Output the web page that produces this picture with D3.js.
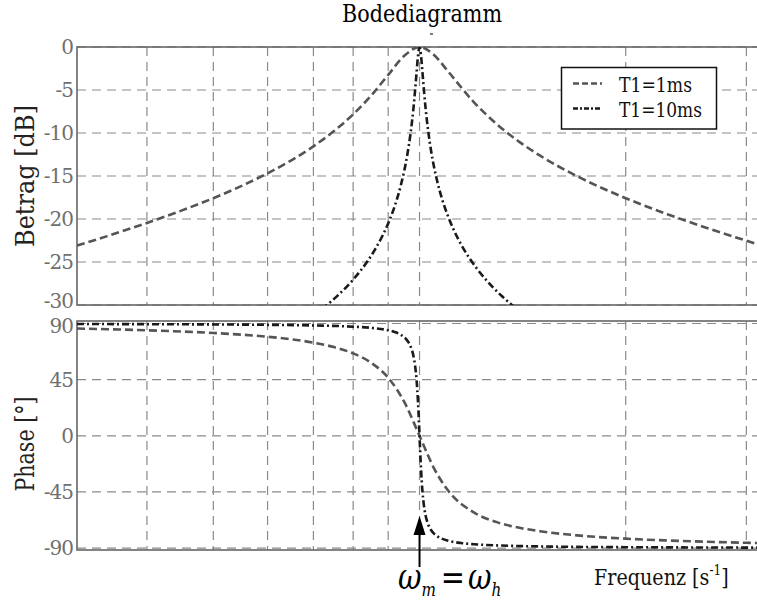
<!DOCTYPE html>
<html>
<head>
<meta charset="utf-8">
<script src="https://cdn.jsdelivr.net/npm/d3@7"></script>
<style>
  body { margin: 0; background: #fff; }
  svg { display: block; }
</style>
</head>
<body>
<div id="chart"></div>
<script>
// frequencies [1/s] and values
const freq1 = [316.2, 350, 400, 450, 500, 550, 600, 650, 700, 750, 800, 850, 900, 950, 1000,
  1050, 1100, 1200, 1300, 1400, 1500, 1700, 2000, 2300, 2600, 3000, 3162];
const mag1 = [-23.09, -21.99, -20.46, -19.0, -17.58, -16.15, -14.69, -13.17, -11.55, -9.78, -7.83, -5.64, -3.25, -1.02, 0,
  -0.93, -2.81, -6.4, -9.05, -11.06, -12.64, -15.04, -17.58, -19.44, -20.92, -22.52, -23.09];
const phase1 = [85.98, 85.44, 84.56, 83.56, 82.41, 81.04, 79.38, 77.31, 74.65, 71.08, 66.04, 58.51, 46.54, 27.16, 0,
  -26.02, -43.66, -61.39, -69.36, -73.74, -76.5, -79.8, -82.41, -83.88, -84.84, -85.71, -85.98];

const freq10m = [720, 740, 760, 780, 800, 820, 840, 860, 880, 900, 920, 940, 960, 970, 980, 990, 995, 1000,
  1005, 1010, 1020, 1030, 1040, 1060, 1080, 1100, 1120, 1150, 1180, 1210, 1250, 1280, 1320, 1360, 1400];
const mag10 = [-30.49, -29.71, -28.88, -28.0, -27.05, -26.02, -24.89, -23.62, -22.18, -20.51, -18.5, -15.95, -12.48, -10.12, -7.06, -3.03, -0.97, 0,
  -0.97, -2.99, -6.92, -9.89, -12.15, -15.44, -17.81, -19.64, -21.14, -22.96, -24.43, -25.67, -27.05, -27.94, -28.99, -29.9, -30.71];

const freq10p = [316.2, 400, 500, 600, 700, 800, 850, 900, 920, 940, 960, 970, 980, 985, 990, 995, 1000,
  1005, 1010, 1015, 1020, 1030, 1040, 1060, 1080, 1100, 1150, 1200, 1300, 1500, 2000, 2500, 3162];
const phase10 = [89.6, 89.45, 89.24, 88.93, 88.43, 87.45, 86.49, 84.59, 83.17, 80.82, 76.24, 71.82, 63.66, 56.51, 45.14, 26.62, 0,
  -26.51, -44.86, -56.11, -63.21, -71.31, -75.7, -80.27, -82.6, -84.02, -85.92, -86.88, -87.84, -88.63, -89.24, -89.45, -89.6];

const gridFreq = [400, 500, 600, 700, 800, 900, 1000, 2000, 3000];
const magTicks = [0, -5, -10, -15, -20, -25, -30];
const phaseTicks = [90, 45, 0, -45, -90];
const seriesNames = ["T1=1ms", "T1=10ms"];

const W = 757, H = 605;
const left = 77, right = 762;
const serif = "DejaVu Serif";

const svg = d3.select("#chart").append("svg")
  .attr("width", W).attr("height", H);

const x = d3.scaleLog().domain([316.2, 3162]).range([left, right]);
const yMag = d3.scaleLinear().domain([-30, 0]).range([305, 47]);
const yPh = d3.scaleLinear().domain([-91.5, 92]).range([550, 321]);

const gridColor = "#8a8a8a";
const frameColor = "#666";
const c1 = "#555", c10 = "#1a1a1a";
const dash1 = "8,4", dash10 = "7,3,2,3";

function panel(y, ticks, id, labelShift) {
  const [y0, y1] = y.range();
  const g = svg.append("g");
  // clip
  svg.append("clipPath").attr("id", id)
    .append("rect").attr("x", left).attr("y", y1).attr("width", right - left).attr("height", y0 - y1);
  // grid
  g.selectAll(".vg").data(gridFreq).join("line")
    .attr("x1", d => x(d)).attr("x2", d => x(d))
    .attr("y1", y1).attr("y2", y0)
    .attr("stroke", gridColor).attr("stroke-width", 1.2).attr("stroke-dasharray", "9,6");
  g.selectAll(".hg").data(ticks).join("line")
    .attr("x1", left).attr("x2", right)
    .attr("y1", d => y(d)).attr("y2", d => y(d))
    .attr("stroke", gridColor).attr("stroke-width", 1.2).attr("stroke-dasharray", "9,6");
  // frame
  g.append("rect")
    .attr("x", left).attr("y", y1).attr("width", right - left).attr("height", y0 - y1)
    .attr("fill", "none").attr("stroke", frameColor).attr("stroke-width", 1.6);
  // tick labels
  g.selectAll(".tl").data(ticks).join("text")
    .attr("x", 73).attr("y", d => y(d) + labelShift(d))
    .attr("text-anchor", "end")
    .attr("font-family", serif)
    .attr("font-size", 20)
    .attr("letter-spacing", -1)
    .attr("fill", "#6f6f6f")
    .text(d => d);
  return g;
}

const gMag = panel(yMag, magTicks, "clipMag", d => d === -30 ? 3 : 7);
const gPh = panel(yPh, phaseTicks, "clipPh", d => d === 90 ? 10 : 7);

function curve(g, fx, vals, y, color, dash, clip) {
  const line = d3.line()
    .x((d, i) => x(fx[i]))
    .y(d => y(d))
    .curve(d3.curveMonotoneX);
  g.append("path")
    .datum(vals)
    .attr("clip-path", `url(#${clip})`)
    .attr("d", line)
    .attr("fill", "none")
    .attr("stroke", color)
    .attr("stroke-width", 2.6)
    .attr("stroke-dasharray", dash);
}

curve(gMag, freq1, mag1, yMag, c1, dash1, "clipMag");
curve(gMag, freq10m, mag10, yMag, c10, dash10, "clipMag");
curve(gPh, freq1, phase1, yPh, c1, dash1, "clipPh");
curve(gPh, freq10p, phase10, yPh, c10, dash10, "clipPh");

// title
svg.append("text")
  .attr("x", 422).attr("y", 22)
  .attr("text-anchor", "middle")
  .attr("font-family", serif).attr("font-size", 24)
  .attr("textLength", 160).attr("lengthAdjust", "spacingAndGlyphs")
  .text("Bodediagramm");
svg.append("line")
  .attr("x1", 430).attr("x2", 433).attr("y1", 34).attr("y2", 34)
  .attr("stroke", "#222").attr("stroke-width", 1.2);

// y labels
svg.append("text")
  .attr("transform", `translate(34,${(yMag.range()[0] + yMag.range()[1]) / 2}) rotate(-90)`)
  .attr("text-anchor", "middle")
  .attr("font-family", serif).attr("font-size", 26)
  .attr("textLength", 142).attr("lengthAdjust", "spacingAndGlyphs")
  .attr("fill", "#222")
  .text("Betrag [dB]");
svg.append("text")
  .attr("transform", "translate(34,444) rotate(-90)")
  .attr("text-anchor", "middle")
  .attr("font-family", serif).attr("font-size", 26)
  .attr("textLength", 95).attr("lengthAdjust", "spacingAndGlyphs")
  .attr("fill", "#222")
  .text("Phase [°]");

// legend
const lg = svg.append("g");
lg.append("rect")
  .attr("x", 561.5).attr("y", 67.5).attr("width", 155).attr("height", 61.5)
  .attr("fill", "#fff").attr("stroke", "#111").attr("stroke-width", 1.5);
const legendStyle = [
  { color: c1, dash: "6,3" },
  { color: c10, dash: "5,2,2,2" }
];
seriesNames.forEach((name, i) => {
  const yy = 83.5 + i * 25;
  lg.append("line")
    .attr("x1", 573).attr("x2", 602).attr("y1", yy).attr("y2", yy)
    .attr("stroke", legendStyle[i].color).attr("stroke-width", 2.4)
    .attr("stroke-dasharray", legendStyle[i].dash);
  lg.append("text")
    .attr("x", 619).attr("y", yy + 8)
    .attr("font-family", serif).attr("font-size", 20)
    .attr("textLength", i === 0 ? 73 : 83).attr("lengthAdjust", "spacingAndGlyphs")
    .attr("fill", "#111")
    .text(name);
});

// x label
const xl = svg.append("text")
  .attr("transform", "translate(594,585) scale(0.87,1)")
  .attr("font-family", serif).attr("font-size", 22)
  .attr("fill", "#111");
xl.append("tspan").text("Frequenz [s");
xl.append("tspan").attr("dy", -10).attr("font-size", 14).text("-1");
xl.append("tspan").attr("dy", 10).text("]");

// arrow at resonance
const ax = x(1000);
svg.append("line")
  .attr("x1", ax).attr("x2", ax).attr("y1", 567).attr("y2", 532)
  .attr("stroke", "#000").attr("stroke-width", 2);
svg.append("path")
  .attr("d", `M${ax},516 L${ax - 6},535 L${ax + 6},535 Z`)
  .attr("fill", "#000");

const om = svg.append("text")
  .attr("transform", "translate(398,589) scale(0.8,1)")
  .attr("font-family", serif).attr("font-size", 36)
  .attr("font-style", "italic")
  .attr("fill", "#000");
om.append("tspan").text("ω");
om.append("tspan").attr("dy", 7).attr("font-size", 19).text("m");
om.append("tspan").attr("dy", -7).attr("dx", 6).attr("font-style", "normal").text("=");
om.append("tspan").attr("dx", 4).text("ω");
om.append("tspan").attr("dy", 7).attr("font-size", 19).text("h");
</script>
</body>
</html>
